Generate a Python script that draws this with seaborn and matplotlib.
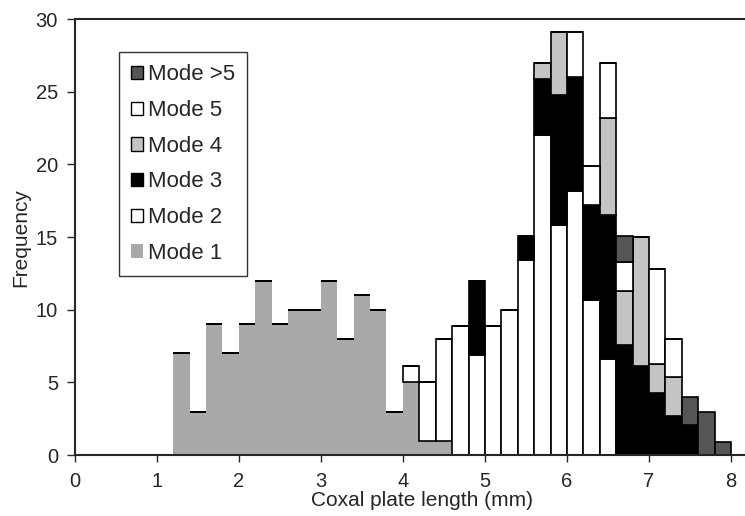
import numpy as np
import pandas as pd
import seaborn as sns
import matplotlib.pyplot as plt
from matplotlib.patches import Patch

# bin left edges 1.2 .. 7.8, width 0.2 mm
bin_left = np.round(np.arange(1.2, 7.81, 0.2), 1)

mode1 = [7, 3, 9, 7, 9, 12, 9, 10, 10, 12, 8, 11, 10, 3, 5, 1, 1,
         0, 0, 0, 0, 0, 0, 0, 0, 0, 0, 0, 0, 0, 0, 0, 0, 0]
mode2 = [0, 0, 0, 0, 0, 0, 0, 0, 0, 0, 0, 0, 0, 0, 1.1, 4.0, 7.0,
         8.9, 6.9, 8.9, 10.0, 13.4, 22.0, 15.8, 18.2, 10.7, 6.6,
         0, 0, 0, 0, 0, 0, 0]
mode3 = [0, 0, 0, 0, 0, 0, 0, 0, 0, 0, 0, 0, 0, 0, 0, 0, 0,
         0, 5.1, 0, 0, 1.7, 3.9, 9.0, 7.8, 6.5, 9.9,
         7.6, 6.1, 4.3, 2.7, 2.1, 0, 0]
mode4 = [0, 0, 0, 0, 0, 0, 0, 0, 0, 0, 0, 0, 0, 0, 0, 0, 0,
         0, 0, 0, 0, 0, 1.1, 4.3, 0, 0, 6.7,
         3.7, 8.9, 2.0, 2.7, 0, 0, 0]
mode5 = [0, 0, 0, 0, 0, 0, 0, 0, 0, 0, 0, 0, 0, 0, 0, 0, 0,
         0, 0, 0, 0, 0, 0, 0, 3.1, 2.7, 3.8,
         2.0, 0, 6.5, 2.6, 0, 0, 0]
mode_gt5 = [0, 0, 0, 0, 0, 0, 0, 0, 0, 0, 0, 0, 0, 0, 0, 0, 0,
            0, 0, 0, 0, 0, 0, 0, 0, 0, 0,
            1.8, 0, 0, 0, 1.9, 3.0, 0.9]

labels = ["Mode >5", "Mode 5", "Mode 4", "Mode 3", "Mode 2", "Mode 1"]
series = [mode_gt5, mode5, mode4, mode3, mode2, mode1]
colors = ["#555555", "#ffffff", "#c4c4c4", "#000000", "#ffffff", "#a9a9a9"]

rows = []
for lab, vals in zip(labels, series):
    for b, v in zip(bin_left, vals):
        rows.append({"length": b + 0.1, "count": v, "mode": lab})
df = pd.DataFrame(rows)

sns.set_style("ticks")
plt.rcParams["font.family"] = ["Liberation Sans", "DejaVu Sans"]

fig = plt.figure(figsize=(7.45, 5.16), dpi=100)
ax = fig.add_axes([0.1003, 0.118, 0.8997, 0.845])

sns.histplot(data=df, x="length", weights="count", hue="mode",
             hue_order=labels, palette=dict(zip(labels, colors)),
             multiple="stack", binwidth=0.2, binrange=(1.2, 8.0),
             alpha=1, edgecolor="black", linewidth=1.2, legend=False, ax=ax)

# Mode 1 has no outline in the original
grey1 = np.array([0xa9, 0xa9, 0xa9]) / 255
for p in ax.patches:
    if np.allclose(p.get_facecolor()[:3], grey1, atol=0.01):
        p.set_edgecolor("none")

ax.set_xlim(0, 8.17)
ax.set_ylim(0, 30)
ax.set_xticks(range(0, 9))
ax.set_yticks(range(0, 31, 5))
ax.spines["right"].set_visible(False)
for s in ["left", "bottom", "top"]:
    ax.spines[s].set_linewidth(1.5)
ax.tick_params(direction="out", length=5, width=1, labelsize=14.5)
ax.tick_params(axis="x", pad=7)
ax.tick_params(axis="y", length=6, pad=6)
ax.set_xlabel("Coxal plate length (mm)", fontsize=15, labelpad=0,
              x=(422 - 74.7) / 670)
ax.set_ylabel("Frequency", fontsize=15, labelpad=4)

handles = [Patch(facecolor=c, edgecolor="black" if c != "#a9a9a9" else "none",
                 linewidth=1) for c in colors]
leg = ax.legend(handles, labels, loc="upper left", bbox_to_anchor=(0.066, 0.924),
                borderaxespad=0, fancybox=False, frameon=True, edgecolor="black",
                fontsize=16, handlelength=0.55, handleheight=0.55,
                handletextpad=0.2, labelspacing=0.66, borderpad=0.55)
leg.get_frame().set_linewidth(1.0)

plt.savefig("out.png", dpi=100)
